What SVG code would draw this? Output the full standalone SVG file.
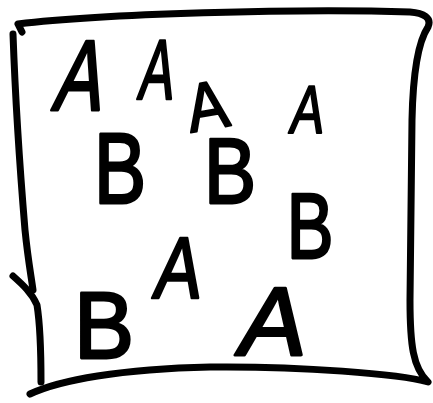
<svg xmlns="http://www.w3.org/2000/svg" width="433" height="403" viewBox="0 0 433 403">
<style>
.ln{fill:none;stroke:#000;stroke-width:7;stroke-linecap:round;stroke-linejoin:round}
.t{font-family:"Liberation Sans",Arial,sans-serif;font-size:100px;fill:#000;stroke:#000;stroke-width:3;stroke-linejoin:round;text-anchor:middle}
</style>
<rect width="433" height="403" fill="#fff"/>
<g id="frame">
<path class="ln" d="M22,32 L18,24 C100,14 300,8 410,12 C424,13 432,18 428,27 C418,42 413,72 412,120 L410,300 C410,345 413,368 428,382 C400,374 300,366 210,367 C120,369 60,380 30,394"/>
<path class="ln" d="M13,34 C15,90 20,170 25,230 C28,260 31,275 33,290"/>
<path class="ln" d="M13,276 C22,284 32,293 37,305 C41,330 41,360 41,382"/>
</g>
<g id="letters">
<text class="t" transform="translate(75,110) skewX(-12) scale(0.72,1)">A</text>
<text class="t" transform="translate(154,99) skewX(-8) scale(0.52,0.85)">A</text>
<text class="t" transform="translate(211,129) rotate(-10) scale(0.62,0.68)">A</text>
<text class="t" transform="translate(305,133) skewX(-8) scale(0.5,0.68)">A</text>
<text class="t" transform="translate(120,203) scale(0.78,1)">B</text>
<text class="t" transform="translate(230,203) scale(0.78,0.92)">B</text>
<text class="t" transform="translate(310,258) scale(0.7,0.92)">B</text>
<text class="t" transform="translate(175,298) skewX(-8) scale(0.7,0.87)">A</text>
<text class="t" transform="translate(104,358) scale(0.9,0.95)">B</text>
<text class="t" transform="translate(268,355) skewX(-10) scale(1,0.97)">A</text>
</g>
</svg>
